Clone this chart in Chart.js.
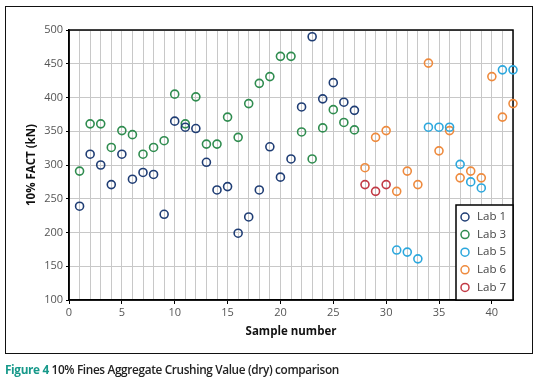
<!DOCTYPE html>
<html>
<head>
<meta charset="utf-8">
<script src="https://cdn.jsdelivr.net/npm/chart.js@4"></script>
<style>
  body { margin: 0; background: #fff; }
  #frame { position: absolute; left: 5px; top: 6px; width: 528px; height: 348px; border: 1.5px solid #111; box-sizing: border-box; }
  #wrap { position: absolute; left: 0; top: 0; width: 539px; height: 389px; }
  #caption { position: absolute; left: 5px; top: 361px; font-family: "Open Sans", sans-serif; font-weight: 600; font-size: 11.8px; color: #222; letter-spacing: -0.35px; white-space: nowrap; }
  #caption b { color: #17998a; font-weight: 700; }
</style>
</head>
<body>
<div id="frame"></div>
<div id="wrap"><canvas id="myChart" width="539" height="389"></canvas></div>
<div id="caption"><b>Figure 4</b> 10% Fines Aggregate Crushing Value (dry) comparison</div>
<script>
// sample numbers and FACT values (kN) per lab
var lab1Samples = [1, 2, 3, 4, 5, 6, 7, 8, 9, 10, 11, 12, 13, 14, 15, 16, 17, 18, 19, 20, 21, 22, 23, 24, 25, 26, 27];
var lab1Values = [239, 316, 300, 271, 316, 279, 289, 286, 227, 365, 356, 354, 304, 263, 268, 199, 223, 263, 327, 282, 309, 386, 490, 398, 422, 393, 381];

var lab3Samples = [1, 2, 3, 4, 5, 6, 7, 8, 9, 10, 11, 12, 13, 14, 15, 16, 17, 18, 19, 20, 21, 22, 23, 24, 25, 26, 27];
var lab3Values = [291, 361, 361, 326, 351, 345, 316, 326, 336, 405, 361, 401, 331, 331, 371, 341, 391, 421, 431, 461, 461, 349, 309, 355, 382, 363, 352];

var lab5Samples = [31, 32, 33, 34, 35, 36, 37, 38, 39, 41, 42];
var lab5Values = [174, 171, 161, 356, 356, 356, 301, 275, 266, 441, 441];

var lab6Samples = [28, 29, 30, 31, 32, 33, 34, 35, 36, 37, 38, 39, 40, 41, 42];
var lab6Values = [296, 341, 351, 261, 291, 271, 451, 321, 351, 281, 291, 281, 431, 371, 391];

var lab7Samples = [28, 29, 30];
var lab7Values = [271, 261, 271];

var labNames = ['Lab 1', 'Lab 3', 'Lab 5', 'Lab 6', 'Lab 7'];
var labColors = ['#1f3d74', '#2f8c4f', '#2ba7dd', '#ee8a3d', '#c23a45'];
var yTicks = [100, 150, 200, 250, 300, 350, 400, 450, 500];

function points(xs, ys) {
    return xs.map(function (x, i) { return { x: x, y: ys[i] }; });
}

var allSeries = [
    points(lab1Samples, lab1Values),
    points(lab3Samples, lab3Values),
    points(lab5Samples, lab5Values),
    points(lab6Samples, lab6Values),
    points(lab7Samples, lab7Values)
];

var font = "'Open Sans', sans-serif";

// full black box around the plot, and the legend inside its lower right corner
var boxPlugin = {
    id: 'box',
    beforeDatasetsDraw: function (chart) {
        var c = chart.ctx, a = chart.chartArea;
        c.save();
        c.strokeStyle = '#000';
        c.lineWidth = 1.5;
        c.strokeRect(a.left, a.top, a.right - a.left, a.bottom - a.top);
        c.restore();
    },
    afterDraw: function (chart) {
        var c = chart.ctx, a = chart.chartArea;
        c.save();
        c.strokeStyle = '#000';
        c.lineWidth = 1.5;
        var w = 57, h = 95;
        var lx = a.right - w, ly = a.bottom - h;
        c.fillStyle = '#fff';
        c.fillRect(lx, ly, w, h);
        c.strokeRect(lx, ly, w, h);
        c.font = '11.5px ' + font;
        c.textBaseline = 'middle';
        chart.data.datasets.forEach(function (ds, i) {
            var y = ly + 12 + i * 17.6;
            c.beginPath();
            c.arc(lx + 9, y, 4, 0, Math.PI * 2);
            c.strokeStyle = ds.borderColor;
            c.lineWidth = 1.5;
            c.stroke();
            c.fillStyle = '#444';
            c.fillText(ds.label, lx + 21, y);
        });
        c.restore();
    }
};

var ctx = document.getElementById('myChart').getContext('2d');
var myChart = new Chart(ctx, {
    type: 'scatter',
    data: {
        datasets: labNames.map(function (name, i) {
            return {
                label: name,
                data: allSeries[i],
                borderColor: labColors[i],
                backgroundColor: 'rgba(0,0,0,0)',
                pointRadius: 4,
                pointBorderWidth: 1.6,
                clip: false
            };
        })
    },
    options: {
        responsive: false,
        animation: false,
        layout: { padding: { left: 21, top: 30, right: 26, bottom: 46 } },
        plugins: {
            legend: { display: false },
            tooltip: { enabled: false }
        },
        scales: {
            x: {
                min: 0,
                max: 42,
                afterFit: function (s) { s.height = 43; },
                ticks: {
                    stepSize: 1,
                    autoSkip: false,
                    maxRotation: 0,
                    padding: 2,
                    color: '#555',
                    font: { family: font, size: 11 },
                    callback: function (v) { return v % 5 === 0 ? v : ''; }
                },
                grid: {
                    color: '#c8c8c8',
                    lineWidth: 1,
                    tickLength: 4,
                    tickColor: function (c) { return c.tick && c.tick.value % 5 === 0 ? '#000' : 'rgba(0,0,0,0)'; }
                },
                border: { color: '#000', width: 1.5 },
                title: {
                    display: true,
                    text: 'Sample number',
                    color: '#111',
                    padding: { top: 2 },
                    font: { family: font, size: 11.5, weight: 'bold' }
                }
            },
            y: {
                min: 100,
                max: 500,
                afterFit: function (s) { s.width = 48; },
                afterBuildTicks: function (s) { s.ticks = yTicks.map(function (v) { return { value: v }; }); },
                ticks: {
                    padding: 3,
                    color: '#555',
                    font: { family: font, size: 11 }
                },
                grid: {
                    color: '#c8c8c8',
                    lineWidth: 1,
                    tickLength: 3,
                    tickColor: '#000'
                },
                border: { color: '#000', width: 1.5 },
                title: {
                    display: true,
                    text: '10% FACT (kN)',
                    color: '#111',
                    padding: { bottom: 0 },
                    font: { family: font, size: 11.5, weight: 'bold' }
                }
            }
        }
    },
    plugins: [boxPlugin]
});
</script>
</body>
</html>
